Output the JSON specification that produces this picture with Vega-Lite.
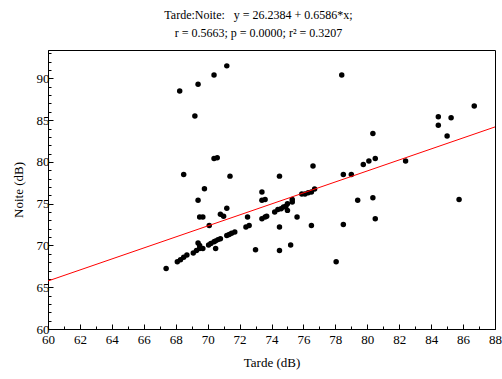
{
  "$schema": "https://vega.github.io/schema/vega-lite/v6.json",
  "width": 447,
  "height": 279,
  "autosize": "none",
  "padding": {"left": 48, "top": 50, "right": 7, "bottom": 50},
  "background": "white",
  "title": {
    "text": ["Tarde:Noite:\u00a0\u00a0\u00a0y = 26.2384 + 0.6586*x;", "r = 0.5663; p = 0.0000; r² = 0.3207"],
    "font": "Liberation Serif",
    "fontSize": 12,
    "fontWeight": "normal",
    "color": "#000",
    "lineHeight": 18,
    "anchor": "middle",
    "dx": -13,
    "offset": 10
  },
  "config": {
    "view": {"stroke": "#000", "strokeWidth": 1},
    "axis": {
      "labelFont": "Liberation Serif",
      "labelFontSize": 13,
      "labelColor": "#000",
      "labelOverlap": false,
      "titleFont": "Liberation Serif",
      "titleFontSize": 13,
      "titleFontWeight": "normal",
      "titleColor": "#000",
      "domainColor": "#000",
      "tickColor": "#000",
      "grid": false
    }
  },
  "resolve": {"axis": {"x": "independent", "y": "independent"}},
  "layer": [
    {
      "data": {"values": [
        {"Tarde": 68.25, "Noite": 88.5},
        {"Tarde": 69.4, "Noite": 89.3},
        {"Tarde": 70.4, "Noite": 90.4},
        {"Tarde": 71.2, "Noite": 91.5},
        {"Tarde": 69.2, "Noite": 85.5},
        {"Tarde": 70.4, "Noite": 80.4},
        {"Tarde": 70.6, "Noite": 80.5},
        {"Tarde": 68.5, "Noite": 78.5},
        {"Tarde": 71.4, "Noite": 78.3},
        {"Tarde": 69.8, "Noite": 76.8},
        {"Tarde": 69.4, "Noite": 75.4},
        {"Tarde": 69.5, "Noite": 73.4},
        {"Tarde": 69.7, "Noite": 73.4},
        {"Tarde": 70.1, "Noite": 72.4},
        {"Tarde": 70.8, "Noite": 73.75},
        {"Tarde": 71.0, "Noite": 73.5},
        {"Tarde": 71.2, "Noite": 74.45},
        {"Tarde": 73.4, "Noite": 76.4},
        {"Tarde": 73.4, "Noite": 75.4},
        {"Tarde": 73.6, "Noite": 75.5},
        {"Tarde": 74.5, "Noite": 78.3},
        {"Tarde": 72.4, "Noite": 72.2},
        {"Tarde": 72.6, "Noite": 72.4},
        {"Tarde": 73.4, "Noite": 73.2},
        {"Tarde": 73.6, "Noite": 73.4},
        {"Tarde": 73.7, "Noite": 73.5},
        {"Tarde": 72.5, "Noite": 73.4},
        {"Tarde": 74.2, "Noite": 74.0},
        {"Tarde": 74.4, "Noite": 74.3},
        {"Tarde": 74.6, "Noite": 74.4},
        {"Tarde": 74.75, "Noite": 74.6},
        {"Tarde": 74.9, "Noite": 74.7},
        {"Tarde": 75.0, "Noite": 74.2},
        {"Tarde": 75.0, "Noite": 75.0},
        {"Tarde": 75.3, "Noite": 75.2},
        {"Tarde": 75.3, "Noite": 75.5},
        {"Tarde": 74.5, "Noite": 72.2},
        {"Tarde": 73.0, "Noite": 69.5},
        {"Tarde": 74.5, "Noite": 69.4},
        {"Tarde": 75.2, "Noite": 70.05},
        {"Tarde": 75.6, "Noite": 73.4},
        {"Tarde": 75.9, "Noite": 76.15},
        {"Tarde": 76.1, "Noite": 76.15},
        {"Tarde": 76.3, "Noite": 76.3},
        {"Tarde": 76.5, "Noite": 76.4},
        {"Tarde": 76.7, "Noite": 76.75},
        {"Tarde": 76.5, "Noite": 72.4},
        {"Tarde": 76.6, "Noite": 79.5},
        {"Tarde": 78.5, "Noite": 78.5},
        {"Tarde": 79.0, "Noite": 78.5},
        {"Tarde": 79.75, "Noite": 79.7},
        {"Tarde": 80.1, "Noite": 80.1},
        {"Tarde": 80.5, "Noite": 80.4},
        {"Tarde": 80.35, "Noite": 83.4},
        {"Tarde": 82.4, "Noite": 80.1},
        {"Tarde": 84.45, "Noite": 85.4},
        {"Tarde": 85.25, "Noite": 85.3},
        {"Tarde": 84.45, "Noite": 84.4},
        {"Tarde": 86.7, "Noite": 86.7},
        {"Tarde": 85.0, "Noite": 83.1},
        {"Tarde": 85.75, "Noite": 75.5},
        {"Tarde": 78.5, "Noite": 72.5},
        {"Tarde": 79.4, "Noite": 75.4},
        {"Tarde": 80.35, "Noite": 75.7},
        {"Tarde": 80.5, "Noite": 73.2},
        {"Tarde": 78.05, "Noite": 68.05},
        {"Tarde": 78.4, "Noite": 90.4},
        {"Tarde": 67.4, "Noite": 67.25},
        {"Tarde": 68.1, "Noite": 68.05},
        {"Tarde": 68.3, "Noite": 68.3},
        {"Tarde": 68.5, "Noite": 68.6},
        {"Tarde": 68.7, "Noite": 68.85},
        {"Tarde": 69.1, "Noite": 69.1},
        {"Tarde": 69.3, "Noite": 69.4},
        {"Tarde": 69.5, "Noite": 69.65},
        {"Tarde": 69.7, "Noite": 69.65},
        {"Tarde": 69.4, "Noite": 70.3},
        {"Tarde": 69.5, "Noite": 70.0},
        {"Tarde": 70.06, "Noite": 70.05},
        {"Tarde": 70.2, "Noite": 70.25},
        {"Tarde": 70.4, "Noite": 70.45},
        {"Tarde": 70.5, "Noite": 70.55},
        {"Tarde": 70.65, "Noite": 70.7},
        {"Tarde": 70.8, "Noite": 70.8},
        {"Tarde": 70.5, "Noite": 69.65},
        {"Tarde": 71.2, "Noite": 71.2},
        {"Tarde": 71.35, "Noite": 71.3},
        {"Tarde": 71.5, "Noite": 71.45},
        {"Tarde": 71.7, "Noite": 71.6}
      ]},
      "mark": {"type": "point", "filled": true, "color": "#000", "opacity": 1, "size": 30},
      "encoding": {
        "x": {"field": "Tarde", "type": "quantitative",
              "scale": {"domain": [60, 88], "nice": false, "zero": false},
              "axis": {"orient": "bottom", "title": "Tarde (dB)", "values": [60,62,64,66,68,70,72,74,76,78,80,82,84,86,88],
                       "labelOverlap": false, "tickSize": -5, "labelPadding": 9, "titlePadding": 10, "labelFlush": false}},
        "y": {"field": "Noite", "type": "quantitative",
              "scale": {"domain": [60, 93.4], "nice": false, "zero": false},
              "axis": {"orient": "left", "title": "Noite (dB)", "values": [60,65,70,75,80,85,90],
                       "labelOverlap": false, "tickSize": -5, "labelPadding": 4, "titlePadding": 11, "labelFlush": false}}
      }
    },
    {
      "data": {"values": [
        {"Tarde": 60, "Noite": 65.75},
        {"Tarde": 88, "Noite": 84.19}
      ]},
      "mark": {"type": "line", "color": "#ff0000", "strokeWidth": 1, "clip": true},
      "encoding": {
        "x": {"field": "Tarde", "type": "quantitative", "axis": null},
        "y": {"field": "Noite", "type": "quantitative", "axis": null}
      }
    },
    {
      "data": {"values": [
        {"Tarde": 60, "Noite": 65.75},
        {"Tarde": 88, "Noite": 84.19}
      ]},
      "mark": {"type": "point", "opacity": 0},
      "encoding": {
        "x": {"field": "Tarde", "type": "quantitative",
              "axis": {"orient": "bottom", "title": null, "labels": false, "domain": false,
                       "values": [61,63,65,67,69,71,73,75,77,79,81,83,85,87], "tickSize": -3}},
        "y": {"field": "Noite", "type": "quantitative",
              "axis": {"orient": "left", "title": null, "labels": false, "domain": false,
                       "values": [61,62,63,64,66,67,68,69,71,72,73,74,76,77,78,79,81,82,83,84,86,87,88,89,91,92,93], "tickSize": -3}}
      }
    }
  ]
}
